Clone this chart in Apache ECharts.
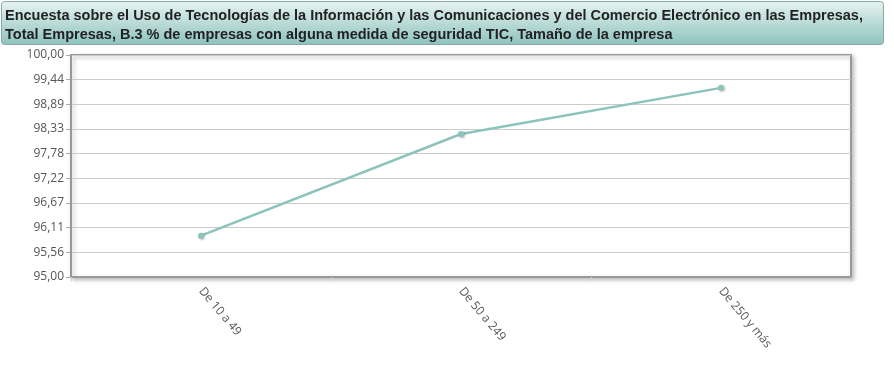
<!DOCTYPE html>
<html><head><meta charset="utf-8">
<script src="https://cdn.jsdelivr.net/npm/echarts@6/dist/echarts.min.js"></script>
<style>html,body{margin:0;padding:0;background:#fff}#c{width:894px;height:367px}</style>
</head><body><div id="c"></div>
<script>
const titleLines = ["Encuesta sobre el Uso de Tecnologías de la Información y las Comunicaciones y del Comercio Electrónico en las Empresas,",
  "Total Empresas, B.3 % de empresas con alguna medida de seguridad TIC, Tamaño de la empresa"];
const categories = ["De 10 a 49", "De 50 a 249", "De 250 y más"];
const values = [95.93, 98.22, 99.26];
const yMin = 95, yMax = 100, ySteps = 9;

const chart = echarts.init(document.getElementById('c'), null, {renderer:'canvas'});
chart.setOption({
  animation:false,
  graphic:[
    {type:'rect', left:1, top:1, shape:{width:882, height:43, r:3},
     style:{fill:new echarts.graphic.LinearGradient(0,0,0,1,[{offset:0,color:'#e6f3f1'},{offset:1,color:'#8ec3bd'}]), stroke:'#8aa9a6', lineWidth:1}},
    {type:'text', left:5, top:6, style:{text:titleLines.join('\n'), font:'bold 14.5px "Liberation Sans", Arial, sans-serif', fill:'#222', lineHeight:19}}
  ],
  grid:{left:71, right:43, top:55, bottom:90, show:true, borderColor:'#999', borderWidth:2, shadowColor:'rgba(0,0,0,0.25)', shadowBlur:4, shadowOffsetX:2, shadowOffsetY:2, backgroundColor:'#fff'},
  xAxis:{type:'category', data:categories, boundaryGap:true,
    axisLine:{show:true, lineStyle:{color:'#999', width:2}},
    axisTick:{show:true, alignWithLabel:false, length:4, lineStyle:{color:'#ccc'}},
    axisLabel:{rotate:-50, color:'#555', fontSize:12, fontFamily:'"Open Sans", Arial, sans-serif', margin:12},
    splitLine:{show:false}},
  yAxis:{type:'value', min:yMin, max:yMax, interval:(yMax-yMin)/ySteps,
    axisLine:{show:true, lineStyle:{color:'#999', width:2}},
    axisTick:{show:true, length:5, lineStyle:{color:'#aaa'}},
    axisLabel:{color:'#555', fontSize:12, fontFamily:'"Open Sans", Arial, sans-serif', margin:7,
      formatter:v=>v.toFixed(2).replace('.',',')},
    splitLine:{show:true, lineStyle:{color:'#ccc', width:1}}},
  series:[{type:'line', data:values, symbol:'circle', symbolSize:6,
    lineStyle:{color:'#8cc3bc', width:2.5},
    itemStyle:{color:'#8cc3bc', shadowColor:'rgba(0,0,0,0.3)', shadowBlur:2, shadowOffsetX:1, shadowOffsetY:1}}]
});
</script></body></html>
